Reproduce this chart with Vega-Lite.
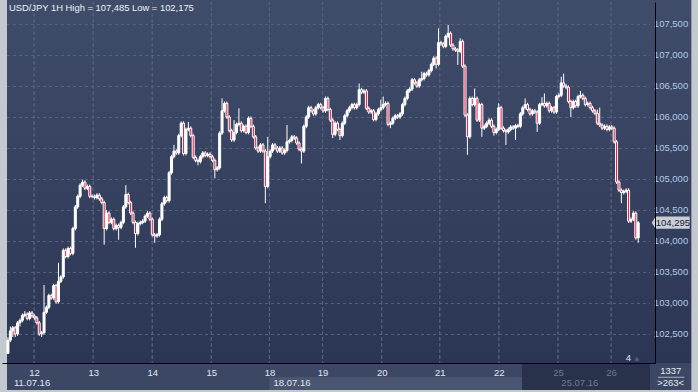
{
"$schema": "https://vega.github.io/schema/vega-lite/v6.json",
"width": 653, "height": 361,
"autosize": {"type": "none"},
"padding": {"left": 2, "top": 2, "right": 43, "bottom": 29},
"background": "#c4c8cf",
"config": {"view": {"stroke": null}, "text": {"font": "Liberation Sans"}, "axis": {"labelOverlap": false, "labelBound": false},
  "locale": {"number": {"decimal": ",", "thousands": ".", "grouping": [3], "currency": ["", ""]}}},
"datasets": {
"candles": [
{"i":0,"o":102.19,"h":102.45,"l":102.175,"c":102.40},
{"i":1,"o":102.40,"h":102.62,"l":102.37,"c":102.55},
{"i":2,"o":102.55,"h":102.63,"l":102.45,"c":102.60},
{"i":3,"o":102.60,"h":102.63,"l":102.45,"c":102.50},
{"i":4,"o":102.50,"h":102.71,"l":102.47,"c":102.68},
{"i":5,"o":102.68,"h":102.75,"l":102.62,"c":102.72},
{"i":6,"o":102.72,"h":102.83,"l":102.69,"c":102.80},
{"i":7,"o":102.80,"h":102.87,"l":102.77,"c":102.82},
{"i":8,"o":102.82,"h":102.85,"l":102.72,"c":102.75},
{"i":9,"o":102.75,"h":102.87,"l":102.72,"c":102.84},
{"i":10,"o":102.84,"h":102.87,"l":102.76,"c":102.79},
{"i":11,"o":102.79,"h":102.82,"l":102.73,"c":102.76},
{"i":12,"o":102.76,"h":102.79,"l":102.65,"c":102.68},
{"i":13,"o":102.68,"h":102.71,"l":102.47,"c":102.50},
{"i":14,"o":102.50,"h":102.55,"l":102.45,"c":102.52},
{"i":15,"o":102.52,"h":103.29,"l":102.49,"c":102.85},
{"i":16,"o":102.85,"h":102.96,"l":102.82,"c":102.93},
{"i":17,"o":102.93,"h":103.15,"l":102.90,"c":103.12},
{"i":18,"o":103.12,"h":103.15,"l":103.05,"c":103.08},
{"i":19,"o":103.08,"h":103.31,"l":103.05,"c":103.28},
{"i":20,"o":103.28,"h":103.31,"l":102.99,"c":103.02},
{"i":21,"o":103.02,"h":103.65,"l":102.99,"c":103.35},
{"i":22,"o":103.35,"h":103.45,"l":103.32,"c":103.42},
{"i":23,"o":103.42,"h":103.88,"l":103.39,"c":103.85},
{"i":24,"o":103.85,"h":103.88,"l":103.72,"c":103.75},
{"i":25,"o":103.75,"h":103.91,"l":103.72,"c":103.88},
{"i":26,"o":103.88,"h":103.91,"l":103.77,"c":103.80},
{"i":27,"o":103.80,"h":104.23,"l":103.77,"c":104.20},
{"i":28,"o":104.20,"h":104.58,"l":104.17,"c":104.55},
{"i":29,"o":104.55,"h":104.75,"l":104.52,"c":104.72},
{"i":30,"o":104.72,"h":104.93,"l":104.69,"c":104.90},
{"i":31,"o":104.90,"h":104.99,"l":104.87,"c":104.95},
{"i":32,"o":104.95,"h":104.98,"l":104.82,"c":104.85},
{"i":33,"o":104.85,"h":104.91,"l":104.82,"c":104.88},
{"i":34,"o":104.88,"h":104.91,"l":104.69,"c":104.72},
{"i":35,"o":104.72,"h":104.75,"l":104.69,"c":104.72},
{"i":36,"o":104.72,"h":104.75,"l":104.67,"c":104.70},
{"i":37,"o":104.70,"h":104.77,"l":104.67,"c":104.74},
{"i":38,"o":104.74,"h":104.77,"l":104.65,"c":104.68},
{"i":39,"o":104.68,"h":104.71,"l":104.59,"c":104.62},
{"i":40,"o":104.62,"h":104.65,"l":103.94,"c":104.20},
{"i":41,"o":104.20,"h":104.50,"l":104.17,"c":104.45},
{"i":42,"o":104.45,"h":104.48,"l":104.27,"c":104.30},
{"i":43,"o":104.30,"h":104.38,"l":104.27,"c":104.35},
{"i":44,"o":104.35,"h":104.38,"l":104.17,"c":104.20},
{"i":45,"o":104.20,"h":104.28,"l":104.17,"c":104.25},
{"i":46,"o":104.25,"h":104.28,"l":104.02,"c":104.22},
{"i":47,"o":104.22,"h":104.33,"l":104.19,"c":104.30},
{"i":48,"o":104.30,"h":104.58,"l":104.27,"c":104.55},
{"i":49,"o":104.55,"h":104.90,"l":104.52,"c":104.75},
{"i":50,"o":104.75,"h":104.78,"l":104.59,"c":104.62},
{"i":51,"o":104.62,"h":104.65,"l":104.42,"c":104.45},
{"i":52,"o":104.45,"h":104.48,"l":104.27,"c":104.30},
{"i":53,"o":104.30,"h":104.33,"l":103.89,"c":104.12},
{"i":54,"o":104.12,"h":104.31,"l":104.09,"c":104.28},
{"i":55,"o":104.28,"h":104.33,"l":104.25,"c":104.30},
{"i":56,"o":104.30,"h":104.35,"l":104.27,"c":104.32},
{"i":57,"o":104.32,"h":104.43,"l":104.29,"c":104.40},
{"i":58,"o":104.40,"h":104.48,"l":104.37,"c":104.45},
{"i":59,"o":104.45,"h":104.48,"l":104.32,"c":104.35},
{"i":60,"o":104.35,"h":104.38,"l":104.07,"c":104.10},
{"i":61,"o":104.10,"h":104.13,"l":103.97,"c":104.08},
{"i":62,"o":104.08,"h":104.13,"l":104.05,"c":104.10},
{"i":63,"o":104.10,"h":104.38,"l":104.07,"c":104.35},
{"i":64,"o":104.35,"h":104.63,"l":104.32,"c":104.60},
{"i":65,"o":104.60,"h":104.73,"l":104.57,"c":104.70},
{"i":66,"o":104.70,"h":104.73,"l":104.62,"c":104.65},
{"i":67,"o":104.65,"h":105.13,"l":104.62,"c":105.10},
{"i":68,"o":105.10,"h":105.39,"l":105.07,"c":105.36},
{"i":69,"o":105.36,"h":105.55,"l":105.33,"c":105.45},
{"i":70,"o":105.45,"h":105.48,"l":105.39,"c":105.42},
{"i":71,"o":105.42,"h":105.73,"l":105.39,"c":105.70},
{"i":72,"o":105.70,"h":105.93,"l":105.67,"c":105.90},
{"i":73,"o":105.90,"h":105.93,"l":105.38,"c":105.41},
{"i":74,"o":105.41,"h":105.83,"l":105.38,"c":105.80},
{"i":75,"o":105.80,"h":105.92,"l":105.77,"c":105.82},
{"i":76,"o":105.82,"h":105.85,"l":105.67,"c":105.70},
{"i":77,"o":105.70,"h":105.73,"l":105.32,"c":105.35},
{"i":78,"o":105.35,"h":105.38,"l":105.27,"c":105.30},
{"i":79,"o":105.30,"h":105.33,"l":105.22,"c":105.28},
{"i":80,"o":105.28,"h":105.39,"l":105.25,"c":105.36},
{"i":81,"o":105.36,"h":105.45,"l":105.33,"c":105.42},
{"i":82,"o":105.42,"h":105.45,"l":105.35,"c":105.38},
{"i":83,"o":105.38,"h":105.43,"l":105.35,"c":105.40},
{"i":84,"o":105.40,"h":105.43,"l":105.33,"c":105.36},
{"i":85,"o":105.36,"h":105.39,"l":105.27,"c":105.30},
{"i":86,"o":105.30,"h":105.33,"l":105.01,"c":105.15},
{"i":87,"o":105.15,"h":105.21,"l":105.12,"c":105.18},
{"i":88,"o":105.18,"h":105.77,"l":105.15,"c":105.74},
{"i":89,"o":105.74,"h":106.30,"l":105.71,"c":106.10},
{"i":90,"o":106.10,"h":106.25,"l":106.07,"c":106.22},
{"i":91,"o":106.22,"h":106.25,"l":105.97,"c":106.00},
{"i":92,"o":106.00,"h":106.03,"l":105.75,"c":105.78},
{"i":93,"o":105.78,"h":105.81,"l":105.60,"c":105.63},
{"i":94,"o":105.63,"h":105.95,"l":105.60,"c":105.75},
{"i":95,"o":105.75,"h":105.91,"l":105.72,"c":105.88},
{"i":96,"o":105.88,"h":106.14,"l":105.85,"c":105.90},
{"i":97,"o":105.90,"h":105.93,"l":105.75,"c":105.78},
{"i":98,"o":105.78,"h":105.88,"l":105.75,"c":105.85},
{"i":99,"o":105.85,"h":105.88,"l":105.72,"c":105.75},
{"i":100,"o":105.75,"h":106.01,"l":105.72,"c":105.98},
{"i":101,"o":105.98,"h":106.01,"l":105.82,"c":105.85},
{"i":102,"o":105.85,"h":105.88,"l":105.65,"c":105.68},
{"i":103,"o":105.68,"h":105.71,"l":105.47,"c":105.50},
{"i":104,"o":105.50,"h":105.53,"l":105.42,"c":105.45},
{"i":105,"o":105.45,"h":105.58,"l":105.42,"c":105.55},
{"i":106,"o":105.55,"h":105.58,"l":105.42,"c":105.45},
{"i":107,"o":105.45,"h":105.48,"l":104.61,"c":104.88},
{"i":108,"o":104.88,"h":105.68,"l":104.85,"c":105.36},
{"i":109,"o":105.36,"h":105.48,"l":105.33,"c":105.45},
{"i":110,"o":105.45,"h":105.58,"l":105.42,"c":105.55},
{"i":111,"o":105.55,"h":105.58,"l":105.47,"c":105.50},
{"i":112,"o":105.50,"h":105.53,"l":105.42,"c":105.45},
{"i":113,"o":105.45,"h":105.53,"l":105.42,"c":105.50},
{"i":114,"o":105.50,"h":105.53,"l":105.39,"c":105.42},
{"i":115,"o":105.42,"h":105.49,"l":105.39,"c":105.46},
{"i":116,"o":105.46,"h":105.87,"l":105.43,"c":105.60},
{"i":117,"o":105.60,"h":105.65,"l":105.57,"c":105.62},
{"i":118,"o":105.62,"h":105.71,"l":105.59,"c":105.68},
{"i":119,"o":105.68,"h":105.71,"l":105.63,"c":105.66},
{"i":120,"o":105.66,"h":105.69,"l":105.55,"c":105.58},
{"i":121,"o":105.58,"h":105.61,"l":105.45,"c":105.48},
{"i":122,"o":105.48,"h":105.51,"l":105.25,"c":105.45},
{"i":123,"o":105.45,"h":105.88,"l":105.42,"c":105.85},
{"i":124,"o":105.85,"h":106.03,"l":105.82,"c":106.00},
{"i":125,"o":106.00,"h":106.18,"l":105.97,"c":106.15},
{"i":126,"o":106.15,"h":106.18,"l":106.07,"c":106.10},
{"i":127,"o":106.10,"h":106.13,"l":106.02,"c":106.05},
{"i":128,"o":106.05,"h":106.18,"l":106.02,"c":106.15},
{"i":129,"o":106.15,"h":106.23,"l":106.12,"c":106.20},
{"i":130,"o":106.20,"h":106.23,"l":106.12,"c":106.15},
{"i":131,"o":106.15,"h":106.18,"l":106.07,"c":106.10},
{"i":132,"o":106.10,"h":106.33,"l":106.07,"c":106.30},
{"i":133,"o":106.30,"h":106.33,"l":106.09,"c":106.12},
{"i":134,"o":106.12,"h":106.15,"l":105.92,"c":105.95},
{"i":135,"o":105.95,"h":105.98,"l":105.66,"c":105.72},
{"i":136,"o":105.72,"h":105.93,"l":105.69,"c":105.90},
{"i":137,"o":105.90,"h":105.93,"l":105.77,"c":105.80},
{"i":138,"o":105.80,"h":105.83,"l":105.63,"c":105.70},
{"i":139,"o":105.70,"h":105.93,"l":105.67,"c":105.90},
{"i":140,"o":105.90,"h":106.05,"l":105.87,"c":106.02},
{"i":141,"o":106.02,"h":106.13,"l":105.99,"c":106.10},
{"i":142,"o":106.10,"h":106.18,"l":106.07,"c":106.15},
{"i":143,"o":106.15,"h":106.23,"l":106.12,"c":106.20},
{"i":144,"o":106.20,"h":106.23,"l":106.12,"c":106.15},
{"i":145,"o":106.15,"h":106.23,"l":106.12,"c":106.20},
{"i":146,"o":106.20,"h":106.54,"l":106.17,"c":106.44},
{"i":147,"o":106.44,"h":106.47,"l":106.37,"c":106.40},
{"i":148,"o":106.40,"h":106.45,"l":106.37,"c":106.42},
{"i":149,"o":106.42,"h":106.45,"l":106.11,"c":106.14},
{"i":150,"o":106.14,"h":106.17,"l":106.05,"c":106.08},
{"i":151,"o":106.08,"h":106.13,"l":106.05,"c":106.10},
{"i":152,"o":106.10,"h":106.13,"l":105.93,"c":105.96},
{"i":153,"o":105.96,"h":106.08,"l":105.93,"c":106.05},
{"i":154,"o":106.05,"h":106.15,"l":106.02,"c":106.12},
{"i":155,"o":106.12,"h":106.28,"l":106.09,"c":106.15},
{"i":156,"o":106.15,"h":106.33,"l":106.12,"c":106.20},
{"i":157,"o":106.20,"h":106.25,"l":106.17,"c":106.22},
{"i":158,"o":106.22,"h":106.25,"l":105.85,"c":105.88},
{"i":159,"o":105.88,"h":105.93,"l":105.82,"c":105.90},
{"i":160,"o":105.90,"h":106.01,"l":105.87,"c":105.98},
{"i":161,"o":105.98,"h":106.05,"l":105.95,"c":106.02},
{"i":162,"o":106.02,"h":106.05,"l":105.97,"c":106.00},
{"i":163,"o":106.00,"h":106.08,"l":105.97,"c":106.05},
{"i":164,"o":106.05,"h":106.23,"l":106.02,"c":106.20},
{"i":165,"o":106.20,"h":106.33,"l":106.17,"c":106.30},
{"i":166,"o":106.30,"h":106.45,"l":106.27,"c":106.42},
{"i":167,"o":106.42,"h":106.48,"l":106.39,"c":106.45},
{"i":168,"o":106.45,"h":106.63,"l":106.42,"c":106.60},
{"i":169,"o":106.60,"h":106.63,"l":106.52,"c":106.55},
{"i":170,"o":106.55,"h":106.58,"l":106.47,"c":106.50},
{"i":171,"o":106.50,"h":106.63,"l":106.47,"c":106.60},
{"i":172,"o":106.60,"h":106.73,"l":106.57,"c":106.62},
{"i":173,"o":106.62,"h":106.73,"l":106.59,"c":106.70},
{"i":174,"o":106.70,"h":106.73,"l":106.65,"c":106.68},
{"i":175,"o":106.68,"h":106.78,"l":106.65,"c":106.75},
{"i":176,"o":106.75,"h":106.88,"l":106.72,"c":106.85},
{"i":177,"o":106.85,"h":106.98,"l":106.82,"c":106.95},
{"i":178,"o":106.95,"h":106.98,"l":106.78,"c":106.85},
{"i":179,"o":106.85,"h":107.43,"l":106.82,"c":107.20},
{"i":180,"o":107.20,"h":107.23,"l":107.15,"c":107.18},
{"i":181,"o":107.18,"h":107.21,"l":107.11,"c":107.14},
{"i":182,"o":107.14,"h":107.33,"l":107.11,"c":107.30},
{"i":183,"o":107.30,"h":107.485,"l":107.27,"c":107.35},
{"i":184,"o":107.35,"h":107.38,"l":107.13,"c":107.16},
{"i":185,"o":107.16,"h":107.19,"l":107.07,"c":107.10},
{"i":186,"o":107.10,"h":107.13,"l":107.05,"c":107.08},
{"i":187,"o":107.08,"h":107.11,"l":106.84,"c":107.06},
{"i":188,"o":107.06,"h":107.27,"l":107.03,"c":107.22},
{"i":189,"o":107.22,"h":107.25,"l":106.79,"c":106.82},
{"i":190,"o":106.82,"h":106.85,"l":106.00,"c":106.03},
{"i":191,"o":106.03,"h":106.06,"l":105.39,"c":105.68},
{"i":192,"o":105.68,"h":106.33,"l":105.65,"c":106.30},
{"i":193,"o":106.30,"h":106.33,"l":106.17,"c":106.20},
{"i":194,"o":106.20,"h":106.46,"l":106.17,"c":106.30},
{"i":195,"o":106.30,"h":106.33,"l":105.92,"c":105.95},
{"i":196,"o":105.95,"h":106.23,"l":105.92,"c":106.20},
{"i":197,"o":106.20,"h":106.23,"l":105.68,"c":105.82},
{"i":198,"o":105.82,"h":105.88,"l":105.79,"c":105.85},
{"i":199,"o":105.85,"h":105.93,"l":105.82,"c":105.90},
{"i":200,"o":105.90,"h":105.98,"l":105.87,"c":105.95},
{"i":201,"o":105.95,"h":105.98,"l":105.82,"c":105.85},
{"i":202,"o":105.85,"h":105.88,"l":105.70,"c":105.75},
{"i":203,"o":105.75,"h":105.83,"l":105.72,"c":105.80},
{"i":204,"o":105.80,"h":106.22,"l":105.77,"c":106.15},
{"i":205,"o":106.15,"h":106.18,"l":105.79,"c":105.82},
{"i":206,"o":105.82,"h":105.85,"l":105.75,"c":105.78},
{"i":207,"o":105.78,"h":105.81,"l":105.55,"c":105.76},
{"i":208,"o":105.76,"h":105.83,"l":105.73,"c":105.80},
{"i":209,"o":105.80,"h":105.87,"l":105.77,"c":105.84},
{"i":210,"o":105.84,"h":105.87,"l":105.79,"c":105.82},
{"i":211,"o":105.82,"h":105.89,"l":105.63,"c":105.86},
{"i":212,"o":105.86,"h":105.89,"l":105.82,"c":105.85},
{"i":213,"o":105.85,"h":106.08,"l":105.82,"c":106.05},
{"i":214,"o":106.05,"h":106.18,"l":106.02,"c":106.15},
{"i":215,"o":106.15,"h":106.30,"l":106.12,"c":106.20},
{"i":216,"o":106.20,"h":106.23,"l":106.09,"c":106.12},
{"i":217,"o":106.12,"h":106.15,"l":106.02,"c":106.05},
{"i":218,"o":106.05,"h":106.13,"l":106.02,"c":106.10},
{"i":219,"o":106.10,"h":106.13,"l":106.05,"c":106.08},
{"i":220,"o":106.08,"h":106.11,"l":105.76,"c":105.90},
{"i":221,"o":105.90,"h":106.23,"l":105.87,"c":106.20},
{"i":222,"o":106.20,"h":106.32,"l":106.17,"c":106.22},
{"i":223,"o":106.22,"h":106.38,"l":106.15,"c":106.18},
{"i":224,"o":106.18,"h":106.25,"l":106.15,"c":106.22},
{"i":225,"o":106.22,"h":106.25,"l":106.07,"c":106.10},
{"i":226,"o":106.10,"h":106.18,"l":106.07,"c":106.15},
{"i":227,"o":106.15,"h":106.18,"l":106.05,"c":106.08},
{"i":228,"o":106.08,"h":106.36,"l":106.05,"c":106.33},
{"i":229,"o":106.33,"h":106.38,"l":106.30,"c":106.35},
{"i":230,"o":106.35,"h":106.65,"l":106.32,"c":106.55},
{"i":231,"o":106.55,"h":106.70,"l":106.47,"c":106.50},
{"i":232,"o":106.50,"h":106.53,"l":106.45,"c":106.48},
{"i":233,"o":106.48,"h":106.51,"l":106.22,"c":106.25},
{"i":234,"o":106.25,"h":106.28,"l":106.00,"c":106.15},
{"i":235,"o":106.15,"h":106.28,"l":106.12,"c":106.25},
{"i":236,"o":106.25,"h":106.28,"l":106.15,"c":106.18},
{"i":237,"o":106.18,"h":106.36,"l":106.15,"c":106.33},
{"i":238,"o":106.33,"h":106.42,"l":106.30,"c":106.35},
{"i":239,"o":106.35,"h":106.38,"l":106.27,"c":106.30},
{"i":240,"o":106.30,"h":106.33,"l":106.17,"c":106.20},
{"i":241,"o":106.20,"h":106.25,"l":106.17,"c":106.22},
{"i":242,"o":106.22,"h":106.25,"l":106.12,"c":106.15},
{"i":243,"o":106.15,"h":106.18,"l":106.07,"c":106.10},
{"i":244,"o":106.10,"h":106.13,"l":106.03,"c":106.06},
{"i":245,"o":106.06,"h":106.12,"l":105.87,"c":105.90},
{"i":246,"o":105.90,"h":106.15,"l":105.84,"c":105.87},
{"i":247,"o":105.87,"h":105.90,"l":105.79,"c":105.82},
{"i":248,"o":105.82,"h":105.88,"l":105.79,"c":105.85},
{"i":249,"o":105.85,"h":105.88,"l":105.77,"c":105.80},
{"i":250,"o":105.80,"h":105.87,"l":105.77,"c":105.84},
{"i":251,"o":105.84,"h":105.87,"l":105.79,"c":105.82},
{"i":252,"o":105.82,"h":105.85,"l":105.57,"c":105.60},
{"i":253,"o":105.60,"h":105.63,"l":104.92,"c":104.95},
{"i":254,"o":104.95,"h":104.98,"l":104.79,"c":104.82},
{"i":255,"o":104.82,"h":104.85,"l":104.61,"c":104.78},
{"i":256,"o":104.78,"h":104.83,"l":104.75,"c":104.80},
{"i":257,"o":104.80,"h":104.85,"l":104.77,"c":104.82},
{"i":258,"o":104.82,"h":104.85,"l":104.29,"c":104.32},
{"i":259,"o":104.32,"h":104.38,"l":104.29,"c":104.35},
{"i":260,"o":104.35,"h":104.48,"l":104.32,"c":104.45},
{"i":261,"o":104.45,"h":104.48,"l":104.02,"c":104.05},
{"i":262,"o":104.05,"h":104.32,"l":103.97,"c":104.295}
],
"levels": [{"g":102.5},{"g":103},{"g":103.5},{"g":104},{"g":104.5},{"g":105},{"g":105.5},{"g":106},{"g":106.5},{"g":107},{"g":107.5}]
},
"layer": [
{"data": {"values": [{"k": "bg"}]},
 "mark": {"type": "rect", "fill": {"x1": 0, "y1": 0, "x2": 0, "y2": 1, "gradient": "linear", "stops": [{"offset": 0, "color": "#404d6a"}, {"offset": 1, "color": "#2b3654"}]}},
 "encoding": {"x": {"datum": -0.4, "scale": {"domain": [-0.4, 266.9], "nice": false, "zero": false}, "title": null}, "x2": {"datum": 284.09},
  "y": {"datum": 107.887, "scale": {"domain": [102.032, 107.855], "nice": false, "zero": false}, "title": null}, "y2": {"datum": 102.032}}},
{"data": {"values": [{"k": "panel"}]},
 "mark": {"type": "rect", "fill": "#3c4863"},
 "encoding": {"x": {"datum": -0.4, "scale": {"domain": [-0.4, 266.9], "nice": false, "zero": false}, "title": null}, "x2": {"datum": 284.09},
  "y": {"datum": 102.032, "scale": {"domain": [102.032, 107.855], "nice": false, "zero": false}, "title": null}, "y2": {"datum": 101.597}}},
{"data": {"values": [{"k": "week"}]},
 "mark": {"type": "rect", "fill": "#4a5671"},
 "encoding": {"x": {"datum": 108.689, "scale": {"domain": [-0.4, 266.9], "nice": false, "zero": false}, "title": null}, "x2": {"datum": 213.7},
  "y": {"datum": 101.806, "scale": {"domain": [102.032, 107.855], "nice": false, "zero": false}, "title": null}, "y2": {"datum": 101.597}}},
{"data": {"values": [{"k": "overlay"}]},
 "mark": {"type": "rect", "fill": "#28324b"},
 "encoding": {"x": {"datum": 213.7, "scale": {"domain": [-0.4, 266.9], "nice": false, "zero": false}, "title": null}, "x2": {"datum": 266.9},
  "y": {"datum": 102.032, "scale": {"domain": [102.032, 107.855], "nice": false, "zero": false}, "title": null}, "y2": {"datum": 101.597}}},
{"data": {"name": "levels"},
 "mark": {"type": "rule", "color": "#56627d", "strokeDash": [3, 3], "strokeWidth": 1, "yOffset": 0.5},
 "encoding": {"x": {"datum": -0.4, "scale": {"domain": [-0.4, 266.9], "nice": false, "zero": false}, "title": null}, "x2": {"datum": 266.9},
  "y": {"field": "g", "type": "quantitative", "scale": {"domain": [102.032, 107.855], "nice": false, "zero": false}, "title": null}}},
{"data": {"values": [{"d":10.857},{"d":35.417},{"d":59.978},{"d":84.538},{"d":108.689},{"d":130.794},{"d":155.354},{"d":179.505},{"d":204.066},{"d":228.627},{"d":250.731}]},
 "mark": {"type": "rect", "fill": null, "stroke": "#56627d", "strokeDash": [3, 3], "strokeWidth": 1},
 "encoding": {"x": {"field": "d", "type": "quantitative", "scale": {"domain": [-0.4, 266.9], "nice": false, "zero": false}, "title": null}, "x2": {"field": "d"},
  "y": {"datum": 107.855, "scale": {"domain": [102.032, 107.855], "nice": false, "zero": false}, "title": null}, "y2": {"datum": 102.032}}},
{"data": {"name": "candles"},
 "mark": {"type": "rule", "color": "#ffffff", "strokeWidth": 1},
 "encoding": {
  "x": {"field": "i", "type": "quantitative", "scale": {"domain": [-0.4, 266.9], "nice": false, "zero": false}, "title": null,
   "axis": {"orient": "bottom", "values": [10.857, 35.417, 59.978, 84.538, 108.689, 130.794, 155.354, 179.505, 204.066, 228.627, 250.731],
    "labelExpr": "datum.value < 20 ? '12' : datum.value < 45 ? '13' : datum.value < 70 ? '14' : datum.value < 95 ? '15' : datum.value < 120 ? '18' : datum.value < 140 ? '19' : datum.value < 165 ? '20' : datum.value < 190 ? '21' : datum.value < 215 ? '22' : datum.value < 240 ? '25' : '26'",
    "grid": false, "ticks": false, "domainColor": "#000000", "domainWidth": 1, "labelPadding": 4, "labelFontSize": 9.5, "labelFont": "Liberation Sans",
    "labelColor": {"condition": {"test": "datum.value > 220", "value": "#6f7a90"}, "value": "#e1e7f0"},
    "labelFlush": false, "labelOverlap": false, "title": null, "zindex": 1}},
  "y": {"field": "l", "type": "quantitative", "scale": {"domain": [102.032, 107.855], "nice": false, "zero": false}, "title": null,
   "axis": {"orient": "right", "values": [102.5, 103.5, 104.5, 105.5, 106.5, 107.5], "labels": false,
    "grid": false, "ticks": false, "domainColor": "#000000", "domainWidth": 1, "title": null, "zindex": 1}},
  "y2": {"field": "h"}}},
{"data": {"name": "candles"},
 "mark": {"type": "bar", "width": 2, "stroke": "#ffffff", "strokeWidth": 1},
 "encoding": {
  "x": {"field": "i", "type": "quantitative", "scale": {"domain": [-0.4, 266.9], "nice": false, "zero": false}, "title": null},
  "y": {"field": "o", "type": "quantitative", "scale": {"domain": [102.032, 107.855], "nice": false, "zero": false}, "title": null},
  "y2": {"field": "c"},
  "fill": {"condition": {"test": "datum.c < datum.o", "value": "#e3123f"}, "value": "#ffffff"}}},
{"data": {"name": "levels"},
 "mark": {"type": "text", "align": "left", "baseline": "middle", "fontSize": 9.5, "font": "Liberation Sans", "color": "#b4c9e8"},
 "encoding": {"x": {"datum": 268.5, "scale": {"domain": [-0.4, 266.9], "nice": false, "zero": false}, "title": null},
  "y": {"field": "g", "type": "quantitative", "scale": {"domain": [102.032, 107.855], "nice": false, "zero": false}, "title": null},
  "text": {"field": "g", "type": "quantitative", "format": ".3f"}}},
{"data": {"values": [{"k": "title"}]},
 "mark": {"type": "text", "align": "left", "baseline": "middle", "fontSize": 9.4, "font": "Liberation Sans", "color": "#eef2f7"},
 "encoding": {"x": {"datum": 0.42, "scale": {"domain": [-0.4, 266.9], "nice": false, "zero": false}, "title": null},
  "y": {"datum": 107.766, "scale": {"domain": [102.032, 107.855], "nice": false, "zero": false}, "title": null},
  "text": {"value": "USD/JPY 1H High = 107,485 Low = 102,175"}}},
{"data": {"values": [{"t": "11.07.16", "x": 2.465}, {"t": "18.07.16", "x": 110.4}, {"t": "25.07.16", "x": 230.05}]},
 "mark": {"type": "text", "align": "left", "baseline": "middle", "fontSize": 9.5, "font": "Liberation Sans"},
 "encoding": {"x": {"field": "x", "type": "quantitative", "scale": {"domain": [-0.4, 266.9], "nice": false, "zero": false}, "title": null},
  "y": {"datum": 101.714, "scale": {"domain": [102.032, 107.855], "nice": false, "zero": false}, "title": null},
  "text": {"field": "t"},
  "color": {"condition": {"test": "datum.x > 200", "value": "#6f7a90"}, "value": "#e1e7f0"}}},
{"data": {"values": [{"k": "4"}]},
 "mark": {"type": "text", "align": "center", "baseline": "middle", "fontSize": 9.5, "font": "Liberation Sans", "color": "#e1e7f0"},
 "encoding": {"x": {"datum": 257.9, "scale": {"domain": [-0.4, 266.9], "nice": false, "zero": false}, "title": null},
  "y": {"datum": 102.113, "scale": {"domain": [102.032, 107.855], "nice": false, "zero": false}, "title": null},
  "text": {"value": "4"}}},
{"data": {"values": [{"k": "tri"}]},
 "mark": {"type": "text", "align": "center", "baseline": "middle", "fontSize": 6, "font": "DejaVu Sans", "color": "#55607a"},
 "encoding": {"x": {"datum": 261.4, "scale": {"domain": [-0.4, 266.9], "nice": false, "zero": false}, "title": null},
  "y": {"datum": 102.105, "scale": {"domain": [102.032, 107.855], "nice": false, "zero": false}, "title": null},
  "text": {"value": "▲"}}},
{"data": {"values": [{"k": "tag"}]},
 "mark": {"type": "point", "shape": "M-1,0L-0.79,-0.32L1,-0.32L1,0.32L-0.79,0.32Z", "size": 1444, "filled": true, "fill": "#c9cdd4", "strokeWidth": 0, "opacity": 1},
 "encoding": {"x": {"datum": 275.5, "scale": {"domain": [-0.4, 266.9], "nice": false, "zero": false}, "title": null},
  "y": {"datum": 104.295, "scale": {"domain": [102.032, 107.855], "nice": false, "zero": false}, "title": null}}},
{"data": {"values": [{"k": "price"}]},
 "mark": {"type": "text", "align": "center", "baseline": "middle", "fontSize": 9.5, "font": "Liberation Sans", "color": "#1b2233"},
 "encoding": {"x": {"datum": 276.4, "scale": {"domain": [-0.4, 266.9], "nice": false, "zero": false}, "title": null},
  "y": {"datum": 104.295, "scale": {"domain": [102.032, 107.855], "nice": false, "zero": false}, "title": null},
  "text": {"value": "104,295"}}},
{"data": {"values": [{"t": "1337", "y": 101.908}, {"t": ">263<", "y": 101.705}]},
 "mark": {"type": "text", "align": "center", "baseline": "middle", "fontSize": 9.5, "font": "Liberation Sans", "color": "#e6ebf2"},
 "encoding": {"x": {"datum": 275.5, "scale": {"domain": [-0.4, 266.9], "nice": false, "zero": false}, "title": null},
  "y": {"field": "y", "type": "quantitative", "scale": {"domain": [102.032, 107.855], "nice": false, "zero": false}, "title": null},
  "text": {"field": "t"}}},
{"data": {"values": [{"k": "sep"}]},
 "mark": {"type": "rule", "color": "#aab2c0", "strokeWidth": 1},
 "encoding": {"x": {"datum": 270.2, "scale": {"domain": [-0.4, 266.9], "nice": false, "zero": false}, "title": null}, "x2": {"datum": 281.2},
  "y": {"datum": 101.802, "scale": {"domain": [102.032, 107.855], "nice": false, "zero": false}, "title": null}}}
]
}
